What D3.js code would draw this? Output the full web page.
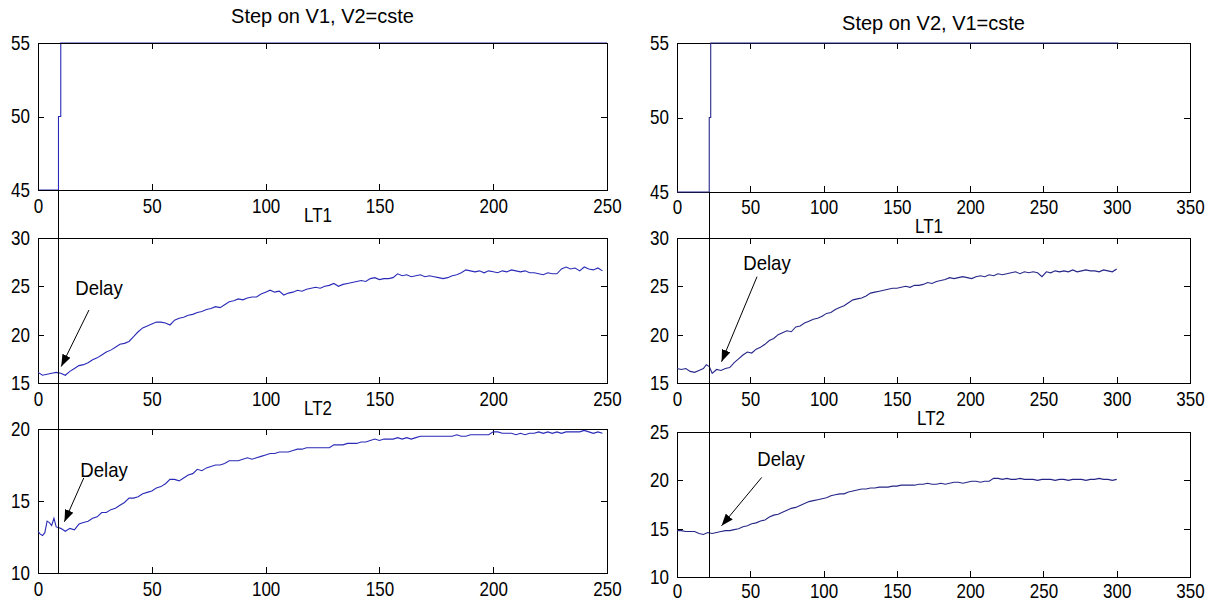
<!DOCTYPE html>
<html>
<head>
<meta charset="utf-8">
<script src="https://cdn.jsdelivr.net/npm/d3@7"></script>
<style>
  body { margin: 0; background: #fff; }
  text { font-family: "Liberation Sans", Arial, sans-serif; fill: #000; }
</style>
</head>
<body>
<svg id="fig" width="1211" height="605"></svg>
<script>

// ---- data ----
var titles = ["Step on V1, V2=cste", "Step on V2, V1=cste"];
var subTitles = ["LT1", "LT2"];

var xTicksLeft = [0, 50, 100, 150, 200, 250];
var xTicksRight = [0, 50, 100, 150, 200, 250, 300, 350];
var yTicksStep = [45, 50, 55];
var yTicksLT1 = [15, 20, 25, 30];
var yTicksLT2Left = [10, 15, 20];
var yTicksLT2Right = [10, 15, 20, 25];

var delayLeft = 9, delayRight = 22;

var stepV1 = [[0, 45], [9, 45], [9, 50], [10, 50], [10, 55], [250, 55]];
var stepV2 = [[0, 45], [22, 45], [22, 50], [23, 50], [23, 55], [301, 55]];

var lt1Left = [[0,16.1],[2,15.8],[4,15.9],[6,16.0],[8,16.1],[10,16.0],[12,15.8],[14,16.2],[16,16.5],[18,16.8],
  [20,16.9],[22,17.1],[24,17.4],[26,17.6],[28,17.9],[30,18.2],[32,18.4],[34,18.7],[36,19.0],[38,19.1],
  [40,19.3],[42,19.8],[44,20.3],[46,20.7],[48,20.9],[50,21.1],[52,21.3],[54,21.3],[56,21.2],[58,21.0],
  [60,21.5],[62,21.7],[64,21.8],[66,22.0],[68,22.1],[70,22.3],[72,22.4],[74,22.6],[76,22.7],[78,22.9],
  [80,22.8],[82,23.1],[84,23.4],[86,23.5],[88,23.7],[90,23.6],[92,23.8],[94,23.9],[96,23.9],[98,24.2],
  [100,24.4],[102,24.6],[104,24.4],[106,24.5],[108,24.1],[110,24.3],[112,24.4],[114,24.6],[116,24.5],[118,24.7],
  [120,24.8],[122,24.9],[124,24.8],[126,25.0],[128,25.1],[130,25.3],[132,25.0],[134,25.2],[136,25.3],[138,25.4],
  [140,25.5],[142,25.6],[144,25.5],[146,25.8],[148,25.9],[150,25.7],[152,25.8],[154,25.8],[156,25.9],[158,26.3],
  [160,26.1],[162,26.2],[164,26.0],[166,26.1],[168,26.2],[170,26.0],[172,26.1],[174,26.0],[176,25.9],[178,25.8],
  [180,25.9],[182,26.1],[184,26.2],[186,26.4],[188,26.7],[190,26.6],[192,26.5],[194,26.6],[196,26.4],[198,26.6],
  [200,26.5],[202,26.4],[204,26.6],[206,26.5],[208,26.7],[210,26.6],[212,26.5],[214,26.6],[216,26.4],[218,26.4],
  [220,26.3],[222,26.2],[224,26.4],[226,26.3],[228,26.3],[230,26.8],[232,27.0],[234,26.8],[236,26.9],[238,26.6],
  [240,27.0],[242,26.8],[244,26.7],[246,26.9],[248,26.6]];

var lt2Left = [[0,12.9],[1,12.7],[2,12.6],[3,12.8],[4,13.6],[5,13.5],[6,13.3],[7,13.8],[8,13.2],[10,13.1],
  [12,12.9],[14,13.1],[16,13.0],[18,13.4],[20,13.5],[22,13.6],[24,13.8],[26,13.9],[28,14.2],[30,14.2],
  [32,14.4],[34,14.5],[36,14.7],[38,14.9],[40,15.2],[42,15.2],[44,15.3],[46,15.5],[48,15.6],[50,15.7],
  [52,15.9],[54,16.0],[56,16.2],[58,16.5],[60,16.5],[62,16.4],[64,16.6],[66,16.8],[68,16.9],[70,17.2],
  [72,17.1],[74,17.3],[76,17.4],[78,17.5],[80,17.5],[82,17.6],[84,17.8],[86,17.8],[88,17.8],[90,17.9],
  [92,18.0],[94,17.9],[96,18.0],[98,18.1],[100,18.2],[102,18.3],[104,18.3],[106,18.4],[108,18.4],[110,18.4],
  [112,18.5],[114,18.6],[116,18.6],[118,18.7],[120,18.7],[122,18.7],[124,18.7],[126,18.7],[128,18.7],[130,18.9],
  [132,18.9],[134,18.9],[136,19.0],[138,19.0],[140,19.0],[142,19.1],[144,19.1],[146,19.2],[148,19.3],[150,19.2],
  [152,19.3],[154,19.3],[156,19.3],[158,19.4],[160,19.3],[162,19.4],[164,19.3],[166,19.4],[168,19.5],[170,19.5],
  [172,19.5],[174,19.5],[176,19.5],[178,19.5],[180,19.5],[182,19.5],[184,19.6],[186,19.5],[188,19.5],[190,19.6],
  [192,19.6],[194,19.6],[196,19.6],[198,19.6],[200,19.8],[202,19.8],[204,19.7],[206,19.7],[208,19.7],[210,19.6],
  [212,19.7],[214,19.6],[216,19.7],[218,19.7],[220,19.8],[222,19.7],[224,19.8],[226,19.7],[228,19.8],[230,19.7],
  [232,19.8],[234,19.8],[236,19.8],[238,19.8],[240,19.9],[242,19.8],[244,19.7],[246,19.8],[248,19.7]];

var lt1Right = [[0,16.5],[3,16.4],[6,16.5],[9,16.2],[12,16.1],[15,16.3],[18,16.5],[20,16.9],[22,16.7],[24,16.0],
  [27,16.4],[30,16.3],[33,16.5],[36,16.6],[39,17.1],[42,17.5],[45,17.9],[48,18.2],[51,18.1],[54,18.5],
  [57,18.7],[60,19.0],[63,19.4],[66,19.6],[69,20.0],[72,20.2],[75,20.4],[78,20.3],[81,20.8],[84,20.9],
  [87,21.2],[90,21.4],[93,21.6],[96,21.7],[99,21.9],[102,22.2],[105,22.3],[108,22.6],[111,22.8],[114,23.0],
  [117,23.3],[120,23.6],[123,23.7],[126,23.8],[129,24.0],[132,24.3],[135,24.4],[138,24.5],[141,24.6],[144,24.7],
  [147,24.8],[150,24.8],[153,24.9],[156,25.0],[159,24.9],[162,25.1],[165,25.1],[168,25.2],[171,25.4],[174,25.3],
  [177,25.5],[180,25.6],[183,25.7],[186,25.9],[189,25.8],[192,25.9],[195,26.0],[198,25.9],[201,25.8],[204,26.0],
  [207,26.1],[210,26.0],[213,26.2],[216,26.1],[219,26.3],[222,26.2],[225,26.3],[228,26.4],[231,26.5],[234,26.3],
  [237,26.5],[240,26.4],[243,26.5],[246,26.4],[249,26.0],[252,26.5],[255,26.4],[258,26.6],[261,26.5],[264,26.6],
  [267,26.5],[270,26.7],[273,26.5],[276,26.6],[279,26.7],[282,26.6],[285,26.6],[288,26.5],[291,26.7],[294,26.6],
  [297,26.5],[300,26.8]];

var lt2Right = [[0,14.8],[3,14.8],[6,14.7],[9,14.7],[12,14.7],[15,14.5],[18,14.4],[21,14.6],[24,14.5],[27,14.6],
  [30,14.7],[33,14.8],[36,14.8],[39,14.9],[42,15.0],[45,15.2],[48,15.3],[51,15.5],[54,15.6],[57,15.8],
  [60,15.9],[63,16.2],[66,16.4],[69,16.5],[72,16.7],[75,16.9],[78,17.1],[81,17.2],[84,17.4],[87,17.6],
  [90,17.8],[93,17.9],[96,18.0],[99,18.1],[102,18.2],[105,18.4],[108,18.5],[111,18.6],[114,18.6],[117,18.8],
  [120,18.9],[123,19.0],[126,19.1],[129,19.1],[132,19.2],[135,19.2],[138,19.3],[141,19.3],[144,19.3],[147,19.4],
  [150,19.4],[153,19.5],[156,19.5],[159,19.5],[162,19.5],[165,19.6],[168,19.6],[171,19.7],[174,19.6],[177,19.6],
  [180,19.7],[183,19.6],[186,19.7],[189,19.8],[192,19.8],[195,19.7],[198,19.8],[201,19.9],[204,19.9],[207,19.8],
  [210,19.9],[213,19.9],[216,20.2],[219,20.2],[222,20.1],[225,20.2],[228,20.1],[231,20.1],[234,20.2],[237,20.1],
  [240,20.1],[243,20.1],[246,20.0],[249,20.1],[252,20.1],[255,20.1],[258,20.0],[261,20.1],[264,20.1],[267,20.0],
  [270,20.1],[273,20.1],[276,20.1],[279,20.0],[282,20.1],[285,20.1],[288,20.2],[291,20.1],[294,20.1],[297,20.0],
  [300,20.1]];

// "Delay" notes: text anchor [t, v], arrow start [t, v], arrow tip [t, v]
var delayNotes = [
  {text: [26.8, 24.1], from: [22.4, 22.55], to: [10.2, 16.7]},
  {text: [29, 16.7], from: [20.1, 16.6], to: [11.6, 13.56]},
  {text: [61.4, 26.7], from: [54.6, 26.0], to: [30.4, 17.2]},
  {text: [71, 21.5], from: [57.8, 20.3], to: [30.4, 15.3]}
];

// ---- layout ----
var svg = d3.select("#fig");

svg.append("defs").append("marker")
    .attr("id", "head")
    .attr("markerUnits", "userSpaceOnUse")
    .attr("markerWidth", 13).attr("markerHeight", 9)
    .attr("refX", 12).attr("refY", 4.5)
    .attr("orient", "auto")
  .append("path")
    .attr("d", "M0,0 L12,4.5 L0,9 Z")
    .attr("fill", "#000");

var panels = [
  {left: 38, right: 607, top: 43, bottom: 190, xd: [0, 250], yd: [45, 55], xt: xTicksLeft, yt: yTicksStep, data: stepV1, color: "#2a2ab8", onTop: false, pad: 9},
  {left: 38, right: 607, top: 238, bottom: 383, xd: [0, 250], yd: [15, 30], xt: xTicksLeft, yt: yTicksLT1, data: lt1Left, color: "#2a2ab8", onTop: true, note: delayNotes[0], pad: 9},
  {left: 38, right: 607, top: 429, bottom: 573, xd: [0, 250], yd: [10, 20], xt: xTicksLeft, yt: yTicksLT2Left, data: lt2Left, color: "#2a2ab8", onTop: true, note: delayNotes[1], pad: 9},
  {left: 677, right: 1190, top: 43, bottom: 192, xd: [0, 350], yd: [45, 55], xt: xTicksRight, yt: yTicksStep, data: stepV2, color: "#262688", onTop: true, pad: 8},
  {left: 677, right: 1190, top: 238, bottom: 383, xd: [0, 350], yd: [15, 30], xt: xTicksRight, yt: yTicksLT1, data: lt1Right, color: "#262688", onTop: true, note: delayNotes[2], pad: 9},
  {left: 677, right: 1190, top: 432, bottom: 577, xd: [0, 350], yd: [10, 25], xt: xTicksRight, yt: yTicksLT2Right, data: lt2Right, color: "#262688", onTop: true, note: delayNotes[3], pad: 7}
];

function label(x, y, str, sx, anchor) {
  svg.append("text")
    .attr("transform", "translate(" + x + "," + y + ") scale(" + sx + ",1)")
    .attr("text-anchor", anchor || "middle")
    .attr("font-size", 20)
    .text(str);
}

function drawLine(p, x, y) {
  var line = d3.line().x(function (d) { return x(d[0]); }).y(function (d) { return y(d[1]); });
  svg.append("path")
    .datum(p.data)
    .attr("d", line)
    .attr("fill", "none")
    .attr("stroke", p.color)
    .attr("stroke-width", 1.1);
}

function drawAxes(p, x, y) {
  var g = svg.append("g");

  var bottom = g.append("g").attr("transform", "translate(0," + p.bottom + ")")
    .call(d3.axisBottom(x).tickValues(p.xt).tickSizeInner(-6).tickSizeOuter(0).tickPadding(p.pad));
  bottom.selectAll("text").attr("transform", "scale(0.85,1)");

  g.append("g").attr("transform", "translate(0," + p.top + ")")
    .call(d3.axisTop(x).tickValues(p.xt).tickSizeInner(-6).tickSizeOuter(0).tickFormat(""));

  var left = g.append("g").attr("transform", "translate(" + p.left + ",0)")
    .call(d3.axisLeft(y).tickValues(p.yt).tickSizeInner(-6).tickSizeOuter(0).tickPadding(8));
  left.selectAll("text").attr("x", -9.5).attr("transform", "scale(0.85,1)");

  g.append("g").attr("transform", "translate(" + p.right + ",0)")
    .call(d3.axisRight(y).tickValues(p.yt).tickSizeInner(-6).tickSizeOuter(0).tickFormat(""));

  // d3 puts its own font on axis groups; use the page font instead
  g.selectAll("g").attr("font-size", 20).attr("font-family", null);
  g.selectAll("path, line").attr("stroke", "#000").attr("shape-rendering", "crispEdges");
}

panels.forEach(function (p) {
  var x = d3.scaleLinear().domain(p.xd).range([p.left, p.right]);
  var y = d3.scaleLinear().domain(p.yd).range([p.bottom, p.top]);
  p.x = x; p.y = y;

  if (!p.onTop) drawLine(p, x, y);
  drawAxes(p, x, y);
  if (p.onTop) drawLine(p, x, y);

  if (p.note) {
    label(x(p.note.text[0]), y(p.note.text[1]), "Delay", 0.93);
    svg.append("line")
      .attr("x1", x(p.note.from[0])).attr("y1", y(p.note.from[1]))
      .attr("x2", x(p.note.to[0])).attr("y2", y(p.note.to[1]))
      .attr("stroke", "#000").attr("stroke-width", 1)
      .attr("marker-end", "url(#head)");
  }
});

// titles
label((panels[0].left + panels[0].right) / 2, 23, titles[0], 1.0);
label((panels[3].left + panels[3].right) / 2, 30, titles[1], 1.0);
label(318, 222, subTitles[0], 0.85);
label(929, 233, subTitles[0], 0.85);
label(318, 415, subTitles[1], 0.85);
label(931, 425, subTitles[1], 0.85);

// vertical lines at the step instant
[[panels[0], panels[2], delayLeft], [panels[3], panels[5], delayRight]].forEach(function (pair) {
  var xs = pair[0].x(pair[2]);
  svg.append("line")
    .attr("x1", xs).attr("x2", xs)
    .attr("y1", pair[0].bottom).attr("y2", pair[1].bottom)
    .attr("stroke", "#000").attr("stroke-width", 1)
    .attr("shape-rendering", "crispEdges");
});

</script>
</body>
</html>
